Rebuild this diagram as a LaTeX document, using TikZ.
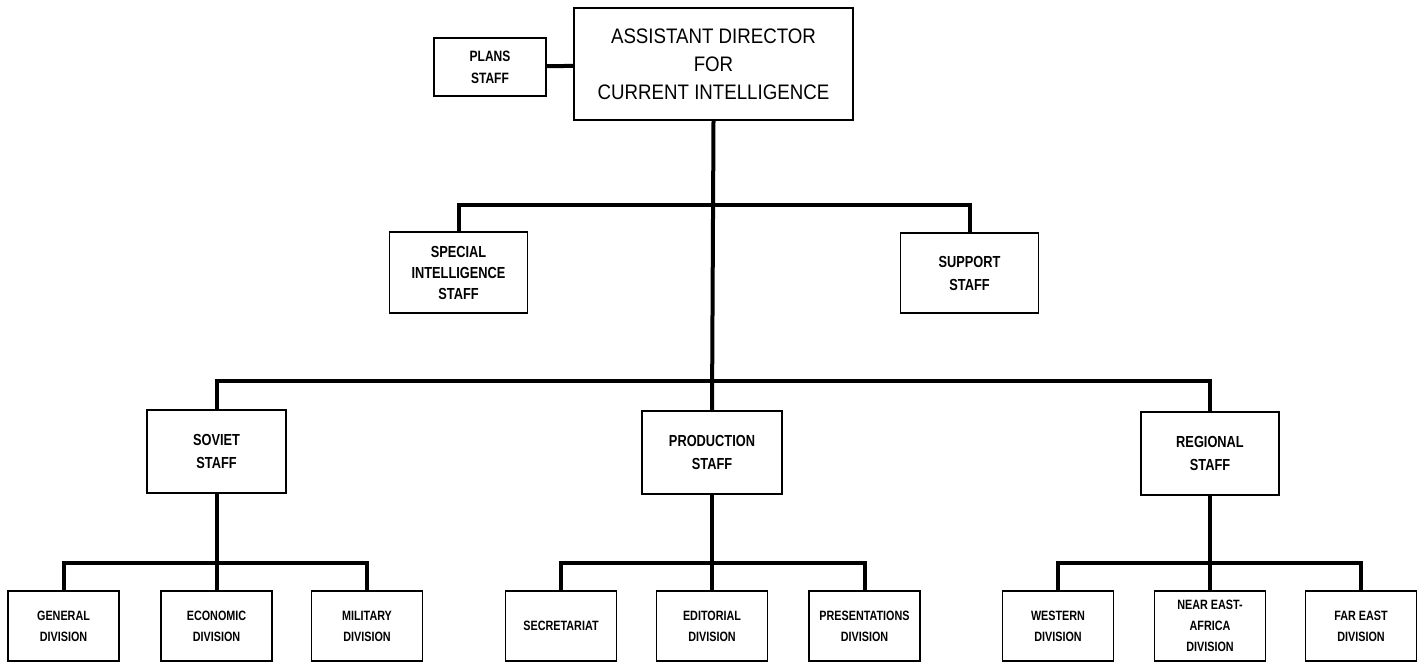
\documentclass[tikz,border=0pt]{standalone}
\usepackage{fontspec}
\setmainfont{Liberation Sans}[FakeStretch=0.8]
\newfontfamily\topfont{Liberation Sans}[FakeStretch=0.89]
\begin{document}
\begin{tikzpicture}[x=1pt, y=-1pt,
		box/.style={draw, line width=1.4pt, align=center, inner sep=0pt},
		staffbox/.style={box, minimum width=138, minimum height=83, font=\bfseries\fontsize{16}{23}\selectfont},
		divbox/.style={box, minimum width=111, minimum height=70, font=\bfseries\fontsize{13.5}{21}\selectfont},
		link/.style={line width=4pt}]
		\useasboundingbox (0, 0) rectangle (1424, 663);
		
		% top
		\node[box, line width=1.8pt, minimum width=279, minimum height=112, font=\topfont\fontsize{21}{28}\selectfont] (adci) at (713.5, 64) {ASSISTANT DIRECTOR\\FOR\\CURRENT INTELLIGENCE};
		\node[box, minimum width=112, minimum height=58, font=\bfseries\fontsize{15}{22}\selectfont] (plans) at (490, 67) {PLANS\\STAFF};
		\draw[link] (plans) -- (adci);
		
		% staffs
		\node[staffbox, minimum height=81, font=\bfseries\fontsize{16}{21}\selectfont] (special) at (458.5, 272.5) {SPECIAL\\INTELLIGENCE\\STAFF};
		\node[staffbox, minimum height=80] (support) at (969.5, 273) {SUPPORT\\STAFF};
		\node[staffbox, minimum width=139] (soviet) at (216.5, 451.5) {SOVIET\\STAFF};
		\node[staffbox, minimum width=140] (production) at (712, 452.5) {PRODUCTION\\STAFF};
		\node[staffbox] (regional) at (1210, 453.5) {REGIONAL\\STAFF};
		
		% divisions
		\foreach \n/\x/\t in {general/63.5/{GENERAL\\DIVISION}, economic/216.5/{ECONOMIC\\DIVISION}, military/367/{MILITARY\\DIVISION},
			secretariat/561/{SECRETARIAT}, editorial/712/{EDITORIAL\\DIVISION}, presentations/864.5/{PRESENTATIONS\\DIVISION},
			western/1058/{WESTERN\\DIVISION}, neareast/1210/{\fontsize{13.5}{18.5}\selectfont NEAR EAST-\\AFRICA\\DIVISION}, fareast/1361/{FAR EAST\\DIVISION}}{
			\node[divbox] (\n) at (\x, 626) {\t};
		}
		
		% bars
		\coordinate (upbar) at (712, 205);
		\coordinate (midbar) at (712, 381);
		\coordinate (lowbar) at (0, 563);
		\draw[link] (adci.south) -- (production.north);
		\draw[link] (special.north) |- (upbar) -| (support.north);
		\draw[link] (soviet.north) |- (midbar) -| (regional.north);
		\foreach \p/\a/\b/\c in {soviet/general/economic/military, production/secretariat/editorial/presentations, regional/western/neareast/fareast}{
			\draw[link] (\a.north) |- (\p.south |- lowbar) -| (\c.north);
			\draw[link] (\p.south) -- (\b.north);
		}
\end{tikzpicture}
\end{document}
